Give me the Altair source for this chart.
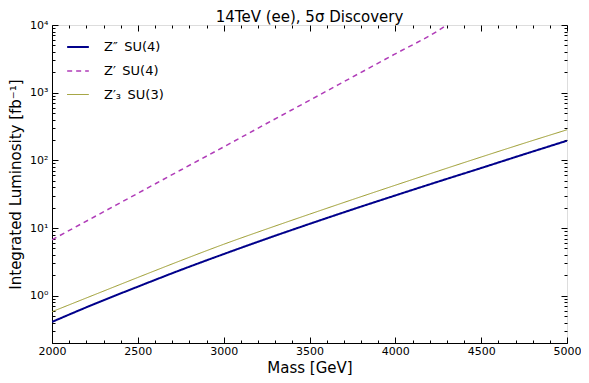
import altair as alt
import pandas as pd

mass = [2000, 2250, 2500, 2750, 3000, 3250, 3500, 3750, 4000, 4250, 4500, 4750, 5000]
lum_zpp_su4 = [0.41, 0.76, 1.36, 2.40, 4.12, 6.95, 11.5, 18.8, 30.3, 48.5, 77, 123, 195]
lum_z3_su3 = [0.58, 1.04, 1.86, 3.30, 5.75, 9.66, 16.0, 26.3, 42.9, 69.5, 112, 179, 283]
mass_zp = [2000, 2250, 2500, 2750, 3000, 3250, 3500, 3750, 4000, 4250, 4300]
lum_zp_su4 = [6.7, 14.8, 32.6, 72, 158, 350, 770, 1700, 3750, 8270, 10000]

series = ["Z″\u2002SU(4)", "Z′\u2002SU(4)", "Z′₃\u2002SU(3)"]
colors = ["#00008b", "#b03cb8", "#9a9a2a"]
dashes = [[1, 0], [5, 4], [1, 0]]
widths = [2.0, 1.0, 1.0]

rows = []
for m, v in zip(mass, lum_zpp_su4):
    rows.append({"mass": m, "lum": v, "series": series[0]})
for m, v in zip(mass_zp, lum_zp_su4):
    rows.append({"mass": m, "lum": v, "series": series[1]})
for m, v in zip(mass, lum_z3_su3):
    rows.append({"mass": m, "lum": v, "series": series[2]})
df = pd.DataFrame(rows)

x_ticks = list(range(2000, 5001, 100))
y_ticks = []
for d in [0.1, 1, 10, 100, 1000]:
    for k in range(1, 10):
        t = round(d * k, 6)
        if 0.2 <= t <= 10000:
            y_ticks.append(t)
y_ticks.append(10000)

major_x = "datum.value % 500 == 0"
major_y = "abs(log(datum.value)/LN10 - round(log(datum.value)/LN10)) < 1e-6"
y_label = ("datum.value == 1 ? '10⁰' : datum.value == 10 ? '10¹' : datum.value == 100 ? '10²' : "
           "datum.value == 1000 ? '10³' : datum.value == 10000 ? '10⁴' : ''")

font = "DejaVu Sans"
xscale = alt.Scale(domain=[2000, 5000], nice=False, zero=False)
yscale = alt.Scale(type="log", domain=[0.2, 10000], nice=False)

common = dict(grid=False, labelFont=font, titleFont=font, titleFontWeight="normal",
              labelColor="black", titleColor="black", domainColor="black", tickColor="black",
              labelOverlap=False)

base = alt.Chart(df)

lines = base.mark_line(clip=True, interpolate="monotone").encode(
    x=alt.X("mass:Q", title="Mass [GeV]", scale=xscale,
            axis=alt.Axis(values=x_ticks, format="d", labelFlush=False,
                          labelExpr=major_x + " ? datum.label : ''",
                          tickSize={"condition": {"test": major_x, "value": -6}, "value": -3},
                          labelFontSize=11, titleFontSize=15, labelPadding=8, titlePadding=1,
                          **common)),
    y=alt.Y("lum:Q", title="Integrated Luminosity [fb⁻¹]", scale=yscale,
            axis=alt.Axis(values=y_ticks, labelExpr=y_label,
                          tickSize={"condition": {"test": major_y, "value": -6}, "value": -3},
                          labelFontSize=11, titleFontSize=15, labelPadding=10, titlePadding=6,
                          **common)),
    color=alt.Color("series:N", scale=alt.Scale(domain=series, range=colors),
                    legend=alt.Legend(title=None, orient="none", legendX=14, legendY=10,
                                      symbolType="stroke", symbolSize=470, labelFontSize=13,
                                      labelFont=font, labelColor="black", rowPadding=5,
                                      labelOffset=14, symbolStrokeWidth=1.5)),
    strokeDash=alt.StrokeDash("series:N", scale=alt.Scale(domain=series, range=dashes), legend=None),
    strokeWidth=alt.StrokeWidth("series:N", scale=alt.Scale(domain=series, range=widths), legend=None),
    order=alt.Order("mass:Q"),
)

mirror = base.mark_line(strokeOpacity=0).encode(
    x=alt.X("mass:Q", title=None, scale=xscale,
            axis=alt.Axis(orient="top", values=x_ticks, labels=False, domain=False,
                          tickSize={"condition": {"test": major_x, "value": -6}, "value": -3},
                          grid=False, tickColor="black", minExtent=0, maxExtent=0)),
    y=alt.Y("lum:Q", title=None, scale=yscale,
            axis=alt.Axis(orient="right", values=y_ticks, labels=False, domain=False,
                          tickSize={"condition": {"test": major_y, "value": -6}, "value": -3},
                          grid=False, tickColor="black", minExtent=0, maxExtent=0)),
    detail="series:N",
)

chart = alt.layer(lines, mirror).resolve_axis(x="independent", y="independent").properties(
    width=573, height=367,
    padding={"left": 0, "right": 0, "top": 2, "bottom": 0},
    autosize=alt.AutoSizeParams(type="fit", contains="padding"),
    title=alt.Title("14TeV (ee), 5σ Discovery", fontSize=15, font=font, fontWeight="normal",
                    color="black", offset=-6),
).configure_view(stroke="black", strokeWidth=1).configure(background="white")

chart.save("out.html", embed_options={"renderer": "svg", "actions": False})
